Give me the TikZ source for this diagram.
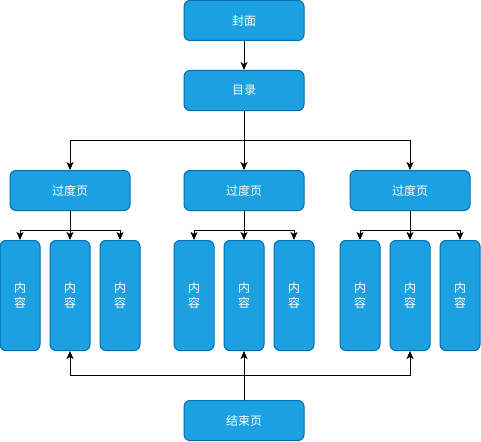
\documentclass[tikz,border=0pt]{standalone}
\usepackage{fontspec}
\setmainfont{Noto Sans CJK SC}
\usetikzlibrary{arrows.meta}
\definecolor{boxfill}{HTML}{1BA1E2}
\definecolor{boxline}{HTML}{006EAF}
\tikzset{
  box/.style={draw=boxline, fill=boxfill, line width=1pt, rounded corners=6pt,
    text=white, font=\fontsize{12}{15}\selectfont, inner sep=0pt, align=center},
  wide/.style={box, minimum width=120pt, minimum height=40pt},
  tall/.style={box, minimum width=40pt, minimum height=110pt},
  arr/.style={draw=black, line width=1pt, -{Stealth[length=8pt,width=7pt,inset=2pt]}}
}
\begin{document}
\begin{tikzpicture}[x=1pt,y=-1pt]
\useasboundingbox (0,0) rectangle (481,441);
\node[wide] (cover) at (244,20.5) {封面};
\node[wide] (toc) at (244,90.5) {目录};
\node[wide] (t1) at (70,190.5) {过度页};
\node[wide] (t2) at (244,190.5) {过度页};
\node[wide] (t3) at (410,190.5) {过度页};
\node[tall] (c11) at (20,295.5) {内\\容};
\node[tall] (c12) at (70,295.5) {内\\容};
\node[tall] (c13) at (120,295.5) {内\\容};
\node[tall] (c21) at (194,295.5) {内\\容};
\node[tall] (c22) at (244,295.5) {内\\容};
\node[tall] (c23) at (294,295.5) {内\\容};
\node[tall] (c31) at (360,295.5) {内\\容};
\node[tall] (c32) at (410,295.5) {内\\容};
\node[tall] (c33) at (460,295.5) {内\\容};
\node[wide] (end) at (244,420.5) {结束页};
\coordinate (jt) at (244,140);
\coordinate (j1) at (70,230.5);
\coordinate (j2) at (244,230.5);
\coordinate (j3) at (410,230.5);
\coordinate (je) at (244,375);
\draw[arr] (cover) -- (toc);
\draw[arr] (toc.south) -- (jt) -| (t1.north);
\draw[arr] (toc.south) -- (t2.north);
\draw[arr] (toc.south) -- (jt) -| (t3.north);
\draw[arr] (t1.south) -- (j1) -| (c11.north);
\draw[arr] (t1.south) -- (c12.north);
\draw[arr] (t1.south) -- (j1) -| (c13.north);
\draw[arr] (t2.south) -- (j2) -| (c21.north);
\draw[arr] (t2.south) -- (c22.north);
\draw[arr] (t2.south) -- (j2) -| (c23.north);
\draw[arr] (t3.south) -- (j3) -| (c31.north);
\draw[arr] (t3.south) -- (c32.north);
\draw[arr] (t3.south) -- (j3) -| (c33.north);
\draw[arr] (end.north) -- (je) -| (c12.south);
\draw[arr] (end.north) -- (c22.south);
\draw[arr] (end.north) -- (je) -| (c32.south);
\end{tikzpicture}
\end{document}
